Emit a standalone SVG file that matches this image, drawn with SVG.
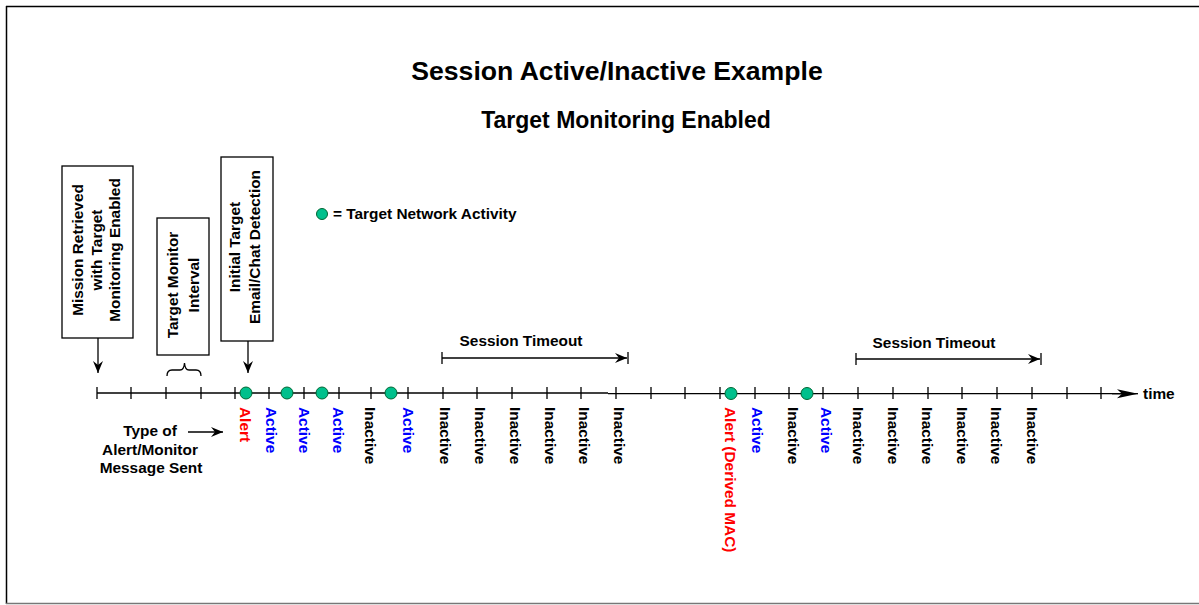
<svg xmlns="http://www.w3.org/2000/svg" width="1199" height="605" viewBox="0 0 1199 605">
  <defs>
    <style>
      text { font-family: "Liberation Sans", Arial, sans-serif; font-weight: bold; fill: #000; }
      .t15 { font-size: 15.4px; }
      .title { font-size: 26.6px; }
      .sub { font-size: 23px; }
      .lbl { font-size: 15.4px; }
      .red { fill: #ff0000; }
      .blue { fill: #0000ff; }
      .box { fill: #fff; stroke: #000; stroke-width: 1.3; }
      .ln { stroke: #000; stroke-width: 1.3; fill: none; }
      .dot { fill: #00c08c; stroke: #063; stroke-width: 1; }
    </style>
    <marker id="barb" markerUnits="userSpaceOnUse" markerWidth="13" markerHeight="10" refX="12" refY="5" orient="auto">
      <path d="M0,0 L12,5 L0,10 L4,5 z" fill="#000"/>
    </marker>
    <marker id="bigbarb" markerUnits="userSpaceOnUse" markerWidth="22" markerHeight="10" refX="21" refY="5" orient="auto">
      <path d="M0,0.5 L21,5 L0,9.5 L5,5 z" fill="#000"/>
    </marker>
  </defs>

  <!-- frame -->
  <g id="frame">
    <line x1="6" y1="6.5" x2="1199" y2="6.5" stroke="#000" stroke-width="1.5"/>
    <line x1="6.5" y1="6" x2="6.5" y2="604" stroke="#000" stroke-width="1.5"/>
    <line x1="6" y1="603.5" x2="1199" y2="603.5" stroke="#777" stroke-width="1.5"/>
  </g>

  <g id="titles">
    <text class="title" x="617" y="80" text-anchor="middle">Session Active/Inactive Example</text>
    <text class="sub" x="626" y="128" text-anchor="middle">Target Monitoring Enabled</text>
  </g>

  <!-- callout boxes (text reads bottom to top) -->
  <g id="box-mission">
    <rect class="box" x="62" y="166" width="71" height="172"/>
    <g transform="translate(0,250) rotate(-90)" text-anchor="middle" class="t15">
      <text x="0" y="83">Mission Retrieved</text>
      <text x="0" y="102">with Target</text>
      <text x="0" y="120">Monitoring Enabled</text>
    </g>
  </g>

  <g id="box-interval">
    <rect class="box" x="157" y="218" width="52" height="137"/>
    <g transform="translate(0,285) rotate(-90)" text-anchor="middle" class="t15">
      <text x="0" y="178">Target Monitor</text>
      <text x="0" y="199">Interval</text>
    </g>
    <path class="ln" d="M167,376 Q167,370 172,370 L180,370 Q184,370 184.5,363 Q185,370 189,370 L196,370 Q201,370 201,376"/>
  </g>

  <g id="box-initial">
    <rect class="box" x="221" y="157" width="52" height="184"/>
    <g transform="translate(0,247) rotate(-90)" text-anchor="middle" class="t15">
      <text x="0" y="240">Initial Target</text>
      <text x="0" y="260">Email/Chat Detection</text>
    </g>
  </g>

  <g id="legend">
    <circle class="dot" cx="322" cy="214" r="5.5"/>
    <text class="t15" x="333" y="219">= Target Network Activity</text>
  </g>

  <g id="message-type">
    <text class="t15" x="150" y="436" text-anchor="middle">Type of</text>
    <text class="t15" x="150" y="455" text-anchor="middle">Alert/Monitor</text>
    <text class="t15" x="151" y="473" text-anchor="middle">Message Sent</text>
  </g>

  <!-- time axis -->
  <g id="axis">
    <line class="ln" x1="97" y1="393" x2="608" y2="393"/>
    <line class="ln" x1="608" y1="393.7" x2="1122" y2="393.7"/>
    <path class="ln" d="M97,387v12 M131,387v12 M166,387v12 M201,387v12 M235,387v12 M269,387v12 M304,387v12 M339,387v12 M371,387v12 M408,387v12 M443,387v12 M477,387v12 M512,387v12 M547,387v12 M581,387v12 M616,387v12 M651,387v12 M685,387v12 M720,387v12 M755,387v12 M789,387v12 M823,387v12 M858,387v12 M893,387v12 M928,387v12 M962,387v12 M997,387v12 M1032,387v12 M1067,387v12 M1101,387v12"/>
    <text class="t15" x="1143" y="399">time</text>
  </g>

  <g id="activity">
    <circle class="dot" cx="246" cy="393" r="6"/>
    <circle class="dot" cx="287" cy="393" r="6"/>
    <circle class="dot" cx="322" cy="393" r="6"/>
    <circle class="dot" cx="391" cy="393" r="6"/>
    <circle class="dot" cx="731" cy="393.5" r="6"/>
    <circle class="dot" cx="807" cy="393.5" r="6"/>
  </g>

  <!-- per-interval message labels (read top to bottom) -->
  <g id="messages" class="lbl">
    <text class="red" transform="translate(240,407) rotate(90)">Alert</text>
    <text class="blue" transform="translate(266,407) rotate(90)">Active</text>
    <text class="blue" transform="translate(299,407) rotate(90)">Active</text>
    <text class="blue" transform="translate(333,407) rotate(90)">Active</text>
    <text transform="translate(365,407) rotate(90)">Inactive</text>
    <text class="blue" transform="translate(403,407) rotate(90)">Active</text>
    <text transform="translate(440,407) rotate(90)">Inactive</text>
    <text transform="translate(475,407) rotate(90)">Inactive</text>
    <text transform="translate(510,407) rotate(90)">Inactive</text>
    <text transform="translate(545,407) rotate(90)">Inactive</text>
    <text transform="translate(579,407) rotate(90)">Inactive</text>
    <text transform="translate(614,407) rotate(90)">Inactive</text>
    <text class="red" transform="translate(725,407) rotate(90)">Alert (Derived MAC)</text>
    <text class="blue" transform="translate(752,407) rotate(90)">Active</text>
    <text transform="translate(788,407) rotate(90)">Inactive</text>
    <text class="blue" transform="translate(821,407) rotate(90)">Active</text>
    <text transform="translate(853,407) rotate(90)">Inactive</text>
    <text transform="translate(888,407) rotate(90)">Inactive</text>
    <text transform="translate(922,407) rotate(90)">Inactive</text>
    <text transform="translate(957,407) rotate(90)">Inactive</text>
    <text transform="translate(991,407) rotate(90)">Inactive</text>
    <text transform="translate(1027,407) rotate(90)">Inactive</text>
  </g>

  <!-- session timeout spans -->
  <g id="timeout-1">
    <text class="t15" x="521" y="346" text-anchor="middle">Session Timeout</text>
    <path class="ln" d="M442,352v12 M628,352v12"/>
  </g>
  <g id="timeout-2">
    <text class="t15" x="934" y="348" text-anchor="middle">Session Timeout</text>
    <path class="ln" d="M856,353v12 M1041,353v12"/>
  </g>

  <g id="connectors">
    <line class="ln" x1="98" y1="338" x2="98" y2="373" marker-end="url(#barb)"/>
    <line class="ln" x1="248" y1="341" x2="248" y2="373" marker-end="url(#barb)"/>
    <line class="ln" x1="188" y1="432" x2="223" y2="432" marker-end="url(#barb)"/>
    <line class="ln" x1="442" y1="358" x2="627" y2="358" marker-end="url(#barb)"/>
    <line class="ln" x1="856" y1="359" x2="1040" y2="359" marker-end="url(#barb)"/>
    <line class="ln" x1="1112" y1="393.7" x2="1138" y2="393.7" marker-end="url(#bigbarb)"/>
  </g>
</svg>
